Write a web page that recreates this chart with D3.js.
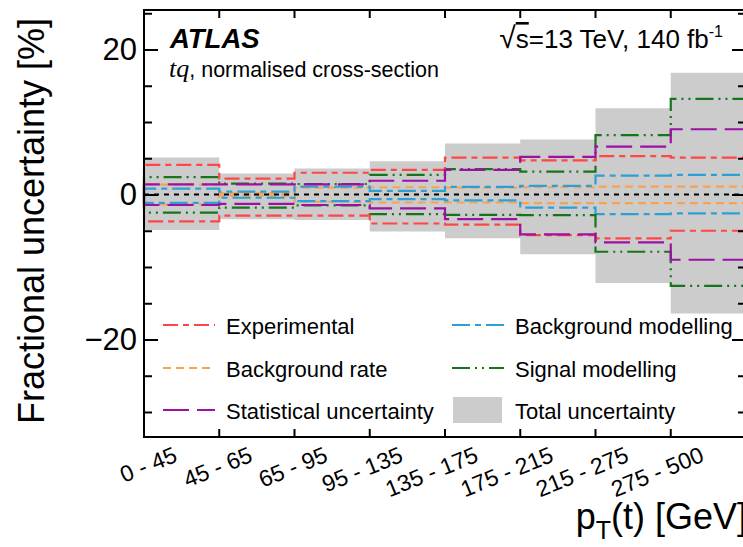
<!DOCTYPE html>
<html>
<head>
<meta charset="utf-8">
<script src="https://cdn.jsdelivr.net/npm/d3@7/dist/d3.min.js"></script>
<style>
  body { margin: 0; background: #fff; }
  svg { display: block; font-family: "Liberation Sans", Arial, Helvetica, sans-serif; }
</style>
</head>
<body>
<svg id="chart" width="743" height="547"></svg>
<script>
// pT(t) bins
var categories = ["0 - 45", "45 - 65", "65 - 95", "95 - 135", "135 - 175", "175 - 215", "215 - 275", "275 - 500"];

// fractional uncertainties [%], up / down per bin
var totalUp   = [5.1, 2.9, 3.6, 4.6, 7.05, 7.6, 11.9, 16.8];
var totalDown = [-4.9, -3.4, -3.5, -5.1, -6.05, -8.25, -12.2, -16.4];

var experimentalUp   = [4.1, 2.2, 3.0, 3.4, 5.1, 4.7, 5.3, 5.1];
var experimentalDown = [-3.7, -2.9, -2.9, -4.0, -4.15, -5.6, -6.05, -5.0];

var bkgRateUp   = [1.35, 0.15, 0.95, 1.0, 0.95, 1.0, 1.1, 1.1];
var bkgRateDown = [-1.35, -0.15, -1.0, -1.1, -1.1, -1.2, -1.2, -1.2];

var statUp   = [1.4, 1.4, 1.4, 1.9, 3.4, 5.2, 6.6, 9.0];
var statDown = [-1.45, -1.3, -1.45, -1.9, -3.4, -5.5, -6.6, -9.0];

var bkgModUp   = [0.8, 0.4, 1.1, 0.5, 1.05, 1.2, 2.6, 2.7];
var bkgModDown = [-1.15, -0.45, -0.9, -0.65, -0.8, -1.8, -2.7, -2.6];

var sigModUp   = [2.4, 1.5, 1.45, 2.7, 3.5, 3.15, 8.2, 13.2];
var sigModDown = [-2.5, -1.8, -1.5, -2.7, -2.8, -2.85, -7.9, -12.6];

var yMajorTicks = [-20, 0, 20];
var yMajorLabels = ["\u221220", "0", "20"];
var yMinorTicks = [-30, -25, -15, -10, -5, 5, 10, 15, 25];

var series = [
  { name: "Background rate", up: bkgRateUp, down: bkgRateDown, color: "#f7a152", dash: "8,5" },
  { name: "Background modelling", up: bkgModUp, down: bkgModDown, color: "#2e9fd6", dash: "18,5,6,5" },
  { name: "Signal modelling", up: sigModUp, down: sigModDown, color: "#16741a", dash: "18,5,2,5,2,5" },
  { name: "Experimental", up: experimentalUp, down: experimentalDown, color: "#ff4545", dash: "15,5,6,5" },
  { name: "Statistical uncertainty", up: statUp, down: statDown, color: "#9b11a3", dash: "26,8" }
];

var plotLeft = 144, plotRight = 746, plotTop = 10, plotBottom = 437;

var svg = d3.select("#chart");

var x = d3.scaleBand().domain(categories).range([plotLeft, plotRight]).paddingInner(0).paddingOuter(0);
var y = d3.scaleLinear().domain([-33.45, 25.45]).range([plotBottom, plotTop]);
var bw = x.bandwidth();

// step points: start from zero at left edge, end back at zero
function stepPoints(vals) {
  var pts = [[plotLeft, 0]];
  categories.forEach(function(c, i) { pts.push([x(c), vals[i]]); });
  pts.push([plotRight, vals[vals.length - 1]]);
  pts.push([plotRight, 0]);
  return pts;
}

var area = d3.area()
  .curve(d3.curveStepAfter)
  .x(d => d[0])
  .y0(d => y(d[1]))
  .y1(d => y(d[2]));

var totalPts = categories.map((c, i) => [x(c), totalDown[i], totalUp[i]]);
totalPts.push([plotRight, totalDown[7], totalUp[7]]);

var plot = svg.append("g");

plot.append("path")
  .attr("d", area(totalPts))
  .attr("fill", "#cccccc");

var line = d3.line()
  .curve(d3.curveStepAfter)
  .x(d => d[0])
  .y(d => y(d[1]));

series.forEach(function(s) {
  [s.up, s.down].forEach(function(vals) {
    plot.append("path")
      .attr("d", line(stepPoints(vals)))
      .attr("fill", "none")
      .attr("stroke", s.color)
      .attr("stroke-width", 2.2)
      .attr("stroke-dasharray", s.dash);
  });
});

// zero line
plot.append("line")
  .attr("x1", plotLeft).attr("x2", plotRight)
  .attr("y1", y(0)).attr("y2", y(0))
  .attr("stroke", "#000")
  .attr("stroke-width", 2)
  .attr("stroke-dasharray", "5,5");

// axes: left with labels, right mirrored
svg.append("g")
  .attr("transform", `translate(${plotLeft},0)`)
  .call(d3.axisLeft(y).tickValues(yMinorTicks).tickSize(-8).tickFormat(""))
  .call(g => g.select(".domain").remove())
  .call(g => g.selectAll("line").attr("stroke-width", 2));

svg.append("g")
  .attr("transform", `translate(${plotLeft},0)`)
  .call(d3.axisLeft(y).tickValues(yMajorTicks).tickSize(-14).tickPadding(7)
          .tickFormat((d, i) => yMajorLabels[i]))
  .call(g => g.select(".domain").remove())
  .call(g => g.selectAll("line").attr("stroke-width", 2))
  .call(g => g.selectAll("text")
              .attr("font-size", 31)
              .attr("font-family", "Liberation Sans, Arial, sans-serif")
              .attr("fill", "#000"));

svg.append("g")
  .attr("transform", `translate(${plotRight},0)`)
  .call(d3.axisRight(y).tickValues(yMinorTicks).tickSize(-8).tickFormat(""))
  .call(g => g.select(".domain").remove())
  .call(g => g.selectAll("line").attr("stroke-width", 2));

svg.append("g")
  .attr("transform", `translate(${plotRight},0)`)
  .call(d3.axisRight(y).tickValues(yMajorTicks).tickSize(-14).tickFormat(""))
  .call(g => g.select(".domain").remove())
  .call(g => g.selectAll("line").attr("stroke-width", 2));

// x ticks at bin edges, top and bottom
var edges = categories.map(c => x(c)).slice(1);
svg.selectAll(".xtick-b")
  .data(edges)
  .enter()
  .append("line")
    .attr("x1", d => d).attr("x2", d => d)
    .attr("y1", plotBottom).attr("y2", plotBottom - 8)
    .attr("stroke", "#000").attr("stroke-width", 2);
svg.selectAll(".xtick-t")
  .data(edges)
  .enter()
  .append("line")
    .attr("x1", d => d).attr("x2", d => d)
    .attr("y1", plotTop).attr("y2", plotTop + 8)
    .attr("stroke", "#000").attr("stroke-width", 2);

// frame
svg.append("rect")
  .attr("x", plotLeft).attr("y", plotTop)
  .attr("width", plotRight - plotLeft).attr("height", plotBottom - plotTop)
  .attr("fill", "none")
  .attr("stroke", "#000")
  .attr("stroke-width", 2);

// x tick labels, rotated
svg.selectAll(".xlabel")
  .data(categories)
  .enter()
  .append("text")
    .attr("text-anchor", "end")
    .attr("font-size", 23)
    .attr("transform", d => `translate(${x(d) + bw / 2 - 3},461) rotate(-22)`)
    .text(d => d);

// axis titles
svg.append("text")
  .attr("transform", "translate(44,221) rotate(-90)")
  .attr("text-anchor", "middle")
  .attr("font-size", 36)
  .text("Fractional uncertainty [%]");

var xt = svg.append("text")
  .attr("x", 747)
  .attr("y", 529)
  .attr("text-anchor", "end")
  .attr("font-size", 36);
xt.append("tspan").text("p");
xt.append("tspan").attr("font-size", 25).attr("dy", 10).text("T");
xt.append("tspan").attr("dy", -10).text("(t) [GeV]");

// ATLAS label
svg.append("text")
  .attr("x", 170).attr("y", 48)
  .attr("font-size", 27.5)
  .attr("font-weight", "bold")
  .attr("font-style", "italic")
  .text("ATLAS");

var sub = svg.append("text")
  .attr("x", 169).attr("y", 77)
  .attr("font-size", 21.5);
sub.append("tspan")
  .attr("font-family", "Liberation Serif, Times New Roman, serif")
  .attr("font-style", "italic")
  .attr("font-size", 26)
  .text("tq");
sub.append("tspan").text(", normalised cross-section");

var energy = svg.append("text")
  .attr("x", 723).attr("y", 48)
  .attr("text-anchor", "end")
  .attr("font-size", 26);
energy.append("tspan").attr("font-size", 30).text("\u221A");
energy.append("tspan").style("text-decoration", "overline").text("s");
energy.append("tspan").text("=13 TeV, 140 fb");
energy.append("tspan").attr("font-size", 16).attr("dy", -11).text("-1");

// legend
var legendEntries = [
  { name: "Experimental", col: 0, row: 0 },
  { name: "Background modelling", col: 1, row: 0 },
  { name: "Background rate", col: 0, row: 1 },
  { name: "Signal modelling", col: 1, row: 1 },
  { name: "Statistical uncertainty", col: 0, row: 2 },
  { name: "Total uncertainty", col: 1, row: 2 }
];
var colX = [163, 452];
var rowY = [334, 377, 419];

legendEntries.forEach(function(e) {
  var lx = colX[e.col], ly = rowY[e.row];
  var s = series.find(d => d.name == e.name);
  if (s) {
    svg.append("line")
      .attr("x1", lx).attr("x2", lx + 52)
      .attr("y1", ly - 9).attr("y2", ly - 9)
      .attr("stroke", s.color)
      .attr("stroke-width", 2.2)
      .attr("stroke-dasharray", s.dash);
  } else {
    svg.append("rect")
      .attr("x", lx + 1).attr("y", ly - 22)
      .attr("width", 49).attr("height", 26)
      .attr("fill", "#cccccc");
  }
  svg.append("text")
    .attr("x", lx + 63).attr("y", ly)
    .attr("font-size", 22)
    .text(e.name);
});
</script>
</body>
</html>
